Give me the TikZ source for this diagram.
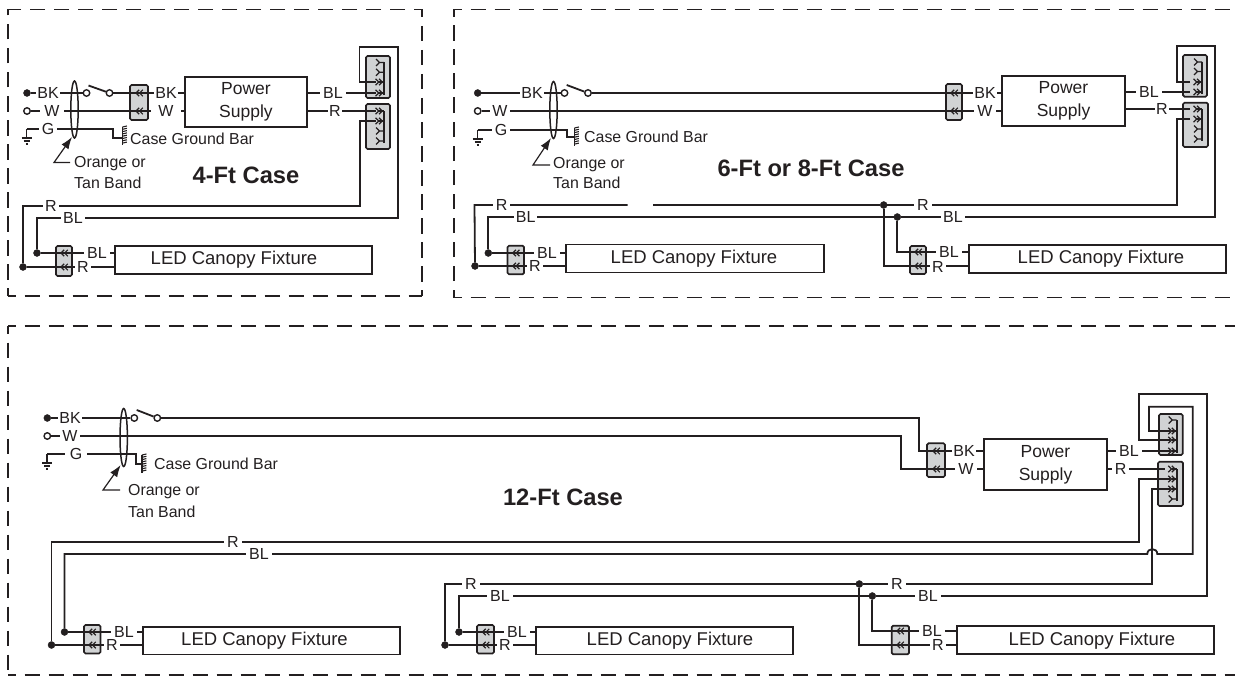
\documentclass[tikz,border=0pt]{standalone}
\usepackage{fontspec}
\setmainfont{Liberation Sans}
\usetikzlibrary{arrows.meta,shapes.geometric}
\definecolor{ink}{HTML}{231F20}
\definecolor{boxgray}{HTML}{D1D3D4}
\tikzset{
  wire/.style={draw=ink,line width=1.8pt,line join=miter},
  thin wire/.style={draw=ink,line width=1.2pt},
  frame/.style={draw=ink,line width=1.6pt,dash pattern=on 15.5pt off 8.5pt,dash phase=7.5pt},
  lab/.style={fill=white,text=ink,inner xsep=1.5pt,inner ysep=0pt,font=\fontsize{16}{16}\selectfont},
  wlab/.style={lab,inner xsep=4.5pt},
  plain/.style={text=ink,inner sep=0pt,font=\fontsize{15.9}{19}\selectfont},
  title/.style={text=ink,inner sep=0pt,font=\bfseries\fontsize{23.7}{26}\selectfont},
  powerbox/.style={draw=ink,line width=1.8pt,fill=white,inner sep=0pt,align=center,text=ink,outer sep=0pt,font=\fontsize{17.5}{23}\selectfont},
  fixbox/.style={draw=ink,line width=1.8pt,fill=white,inner sep=0pt,outer sep=0pt},
  fixtext/.style={text=ink,inner sep=0pt,font=\fontsize{18.5}{20}\selectfont},
  splicebox/.style={draw=ink,line width=1.7pt,fill=boxgray,rounded corners=1.5pt,inner sep=0pt,outer sep=0pt},
  solidterm/.style={circle,fill=ink,draw=ink,inner sep=0pt,minimum size=7pt},
  openterm/.style={circle,fill=white,draw=ink,line width=1.4pt,inner sep=0pt,minimum size=6.5pt},
  band/.style={ellipse,draw=ink,line width=1.5pt,inner sep=0pt,minimum width=7.4pt,minimum height=57pt},
  callout/.style={draw=ink,line width=1.2pt,-{Latex[length=12pt,width=8.5pt]}},
}
\newcommand{\spliceat}[5]{\node[splicebox,minimum width={#3-#2},minimum height={#5-#4}] (#1) at ({(#2+#3)/2},{(#4+#5)/2}) {};}
\newcommand{\fixat}[5]{\node[fixbox,minimum width={#3-#2},minimum height={#5-#4}] (#1) at ({(#2+#3)/2},{(#4+#5)/2}) {};}
\newcommand{\powerat}[5]{\node[powerbox,minimum width={#3-#2},minimum height={#5-#4}] (#1) at ({(#2+#3)/2},{(#4+#5)/2}) {Power\\Supply};}
\newcommand{\lchev}[2]{\draw[thin wire] (#1+.2,#2-3.2)--(#1-3,#2)--(#1+.2,#2+3.2) (#1+3.8,#2-3.2)--(#1+.6,#2)--(#1+3.8,#2+3.2);}
\newcommand{\usedrow}[3]{\draw[thin wire] (#1-8.5,#2-3.2)--(#1-5.3,#2)--(#1-8.5,#2+3.2) (#1-5,#2-3.2)--(#1-1.8,#2)--(#1-5,#2+3.2);\draw[thin wire] (#1-5,#2)--(#1+#3,#2);}
\newcommand{\freerow}[2]{\draw[thin wire] (#1-8,#2-3.5)--(#1-4.5,#2)--(#1-8,#2+3.5) (#1-4.5,#2)--(#1,#2);}
\newcommand{\busbar}[3]{\draw[wire] (#1,#2)--(#1,#3);}
\newcommand{\gnd}[2]{\draw[thin wire] (#1,#2)--(#1,#2+9) (#1-5,#2+9)--(#1+5,#2+9) (#1-3,#2+12)--(#1+3,#2+12) (#1-1,#2+15)--(#1+1,#2+15);}
\newcommand{\gbar}[3]{\draw[wire] (#1,#2)--(#1,#3);\foreach \yy in {0,2.3,...,17.5}{\draw[draw=ink,line width=1.1pt] (#1,#2+\yy)--(#1+4.4,#2+\yy-1);}}
\begin{document}
\begin{tikzpicture}[x=1pt,y=-1pt]
\useasboundingbox (0,0) rectangle (1235,677);
% frames
\draw[frame] (421.7,9.5)--(8,9.5);
\draw[frame] (421.7,9.5)--(421.7,296);
\draw[frame] (8,296)--(8,9.5);
\draw[frame] (8,296)--(421.7,296);
\draw[frame] (454,9.5)--(1235,9.5);
\draw[frame] (454,297.5)--(454,9.5);
\draw[frame] (454,297.5)--(1235,297.5);
\draw[frame] (8,326)--(1235,326);
\draw[frame] (8,326)--(8,675);
\draw[frame] (8,675)--(1235,675);

%% ---------- 4-Ft ----------
\spliceat{a-in}{130}{148}{85}{120}
\powerat{a-power}{185}{307}{77}{127}
\spliceat{a-ct}{366}{390}{56}{98}
\spliceat{a-cb}{366}{390}{104}{149}
\fixat{a-fix}{115}{372}{246}{274}
\spliceat{a-out}{56}{72}{246}{276}
\node[solidterm] (a-bk) at (27,93) {};
\node[openterm] (a-w) at (27,111) {};
\node[openterm] (a-s1) at (86.5,93) {};
\node[openterm] (a-s2) at (109.5,93) {};
\coordinate (a-blade) at (88.5,85.5);
\coordinate (a-ctbl) at (376,93);
\coordinate (a-cbr) at (376,111);
\node[solidterm] (a-dbl) at (37,253) {};
\node[solidterm] (a-dr) at (23,267) {};
\draw[wire] (a-bk)--(a-s1);
\draw[wire] (a-s2)--(a-s2-|a-power.west);
\draw[wire] (a-blade)--(a-s2);
\draw[wire] (a-w)--(a-w-|a-power.west);
\draw[wire] (a-power.east|-a-ctbl)--(a-ctbl);
\draw[wire] (a-power.east|-a-cbr)--(a-cbr);
\draw[wire] (376,82)--(359.5,82)--(359.5,47)--(397.7,47)--(397.7,218)--(37,218)--(a-dbl);
\draw[wire] (376,121)--(360,121)--(360,206)--(23,206)--(a-dr);
\draw[wire] (a-dbl)--(a-dbl-|a-fix.west);
\draw[wire] (a-dr)--(a-dr-|a-fix.west);
\draw[wire] (26.5,129)--(113,129)--(113,138)--(122,138);
\gnd{26.5}{129}
\gbar{122.5}{127}{145}
\node[band] (a-band) at (74.5,109.5) {};
\node[lab] (a-l1) at (48,93) {BK};
\node[wlab] (a-l2) at (52,111) {W};
\node[lab,inner xsep=3pt] (a-l3) at (48,129) {G};
\node[lab] (a-l4) at (166,93) {BK};
\node[wlab,inner xsep=7pt] (a-l5) at (166,111) {W};
\node[lab,inner xsep=3pt] (a-l6) at (333,93) {BL};
\node[lab] (a-l7) at (335,111) {R};
\node[lab,inner xsep=2.5pt] (a-l8) at (51,206) {R};
\node[lab,inner xsep=2.5pt] (a-l9) at (73,218) {BL};
\node[lab,inner xsep=3pt] (a-l10) at (97,253) {BL};
\node[lab,inner xsep=2.5pt] (a-l11) at (83,267) {R};
\lchev{139}{93}\lchev{139}{111}\lchev{64}{253}\lchev{64}{267}
\busbar{384}{62.5}{95}\busbar{384}{111}{143}
\freerow{384}{62.5}\freerow{384}{72.3}\usedrow{384}{82}{0}\usedrow{384}{93}{0}
\usedrow{384}{111}{0}\usedrow{384}{121}{0}\freerow{384}{131}\freerow{384}{141}
\coordinate (a-co) at (70,162.5);
\draw[callout] (a-co)--(54,162.5)--(72,137);
\node[plain,anchor=west] (a-t1) at (130,139) {Case Ground Bar};
\node[plain,anchor=west] (a-t2) at (74,164) {Orange or};
\node[plain,anchor=west] (a-t3) at (74,183) {Tan Band};
\node[title] (a-title) at (246,175) {4-Ft Case};
\node[fixtext] (a-ft) at (234,260) {LED Canopy Fixture};

%% ---------- 6-Ft / 8-Ft ----------
\spliceat{b-in}{946}{962}{84}{120}
\powerat{b-power}{1002}{1125}{76}{126}
\spliceat{b-ct}{1183}{1207}{55}{96.7}
\spliceat{b-cb}{1183}{1208}{102.7}{147}
\fixat{b-fix1}{566}{824}{244.5}{272.5}
\fixat{b-fix2}{969}{1226}{245}{273}
\spliceat{b-out1}{507.5}{524}{245.7}{274.3}
\spliceat{b-out2}{910}{926}{246}{274}
\node[solidterm] (b-bk) at (477.7,93) {};
\node[openterm] (b-w) at (477.7,111) {};
\node[openterm] (b-s1) at (564.5,93) {};
\node[openterm] (b-s2) at (588,93) {};
\coordinate (b-blade) at (566.7,85);
\coordinate (b-ctbl) at (1190,92);
\coordinate (b-cbr) at (1190,109);
\node[solidterm] (b-dbl1) at (488.3,253) {};
\node[solidterm] (b-dr1) at (475,266) {};
\node[solidterm] (b-dbl2) at (897.3,217) {};
\node[solidterm] (b-dr2) at (883.7,205) {};
\draw[wire] (b-bk)--(b-s1);
\draw[wire] (b-s2)--(b-s2-|b-power.west);
\draw[wire] (b-blade)--(b-s2);
\draw[wire] (b-w)--(b-w-|b-power.west);
\draw[wire] (b-power.east|-b-ctbl)--(b-ctbl);
\draw[wire] (b-power.east|-b-cbr)--(b-cbr);
\draw[wire] (1190,82)--(1177,82)--(1177,46)--(1215,46)--(1215,217)--(b-dbl2);
\draw[wire] (b-dbl2)--(488.3,217)--(b-dbl1);
\draw[wire] (1190,119)--(1177,119)--(1177,205)--(b-dr2);
\draw[wire] (b-dr2)--(653,205);
\draw[wire] (627.7,205)--(474.5,205)--(b-dr1);
\draw[wire] (b-dbl1)--(b-dbl1-|b-fix1.west);
\draw[wire] (b-dr1)--(b-dr1-|b-fix1.west);
\draw[wire] (b-dbl2)--(897.3,252)--(969,252);
\draw[wire] (b-dr2)--(883.7,266)--(969,266);
\draw[wire] (477.7,130)--(567,130)--(567,137)--(573.5,137);
\gnd{477.7}{130}
\gbar{574.5}{128}{146}
\node[band] (b-band) at (553.5,110) {};
\node[lab] (b-l1) at (532,93) {BK};
\node[wlab,inner xsep=2.5pt] (b-l2) at (500,111) {W};
\node[lab,inner xsep=3pt] (b-l3) at (501,130) {G};
\node[lab] (b-l4) at (985,93) {BK};
\node[wlab,inner xsep=3pt] (b-l5) at (985,111) {W};
\node[lab,inner xsep=3pt] (b-l6) at (1149,92) {BL};
\node[lab] (b-l7) at (1162,109) {R};
\node[lab,inner xsep=2.5pt] (b-l8) at (501.7,205) {R};
\node[lab,inner xsep=2pt] (b-l9) at (525.7,217) {BL};
\node[lab,inner xsep=3pt] (b-l10) at (547,253) {BL};
\node[lab,inner xsep=2.5pt] (b-l11) at (535,266) {R};
\node[lab,inner xsep=3pt] (b-l12) at (923,205) {R};
\node[lab,inner xsep=2.5pt] (b-l13) at (953,217) {BL};
\node[lab,inner xsep=3pt] (b-l14) at (949,252) {BL};
\node[lab,inner xsep=2.5pt] (b-l15) at (938,266.5) {R};
\lchev{954}{93}\lchev{954}{111}\lchev{515.7}{253}\lchev{515.7}{266}\lchev{918}{252}\lchev{918}{266}
\busbar{1202}{62}{94}\busbar{1202}{109}{141}
\freerow{1202}{62}\freerow{1202}{71.5}\usedrow{1202}{82}{0}\usedrow{1202}{92}{0}
\usedrow{1202}{109}{0}\usedrow{1202}{119}{0}\freerow{1202}{129}\freerow{1202}{139}
\draw[callout] (550,165)--(533,165)--(551,138);
\node[plain,anchor=west] (b-t1) at (584,137) {Case Ground Bar};
\node[plain,anchor=west] (b-t2) at (553,165) {Orange or};
\node[plain,anchor=west] (b-t3) at (553,183) {Tan Band};
\node[title] (b-title) at (811,168) {6-Ft or 8-Ft Case};
\node[fixtext] (b-ft1) at (694,259) {LED Canopy Fixture};
\node[fixtext] (b-ft2) at (1101,259) {LED Canopy Fixture};

%% ---------- 12-Ft ----------
\spliceat{c-in}{927}{945}{443.3}{477}
\powerat{c-power}{984}{1107}{439}{490}
\spliceat{c-ct}{1159}{1182.7}{414}{455}
\spliceat{c-cb}{1158}{1183}{461.7}{506}
\fixat{c-fix1}{142.7}{400}{627}{654.5}
\fixat{c-fix2}{536}{793}{627}{654.5}
\fixat{c-fix3}{957}{1214}{625.7}{654}
\spliceat{c-out1}{84}{100.5}{625}{653.5}
\spliceat{c-out2}{477}{494}{625}{653.5}
\spliceat{c-out3}{891.7}{909}{625.7}{654.3}
\node[solidterm] (c-bk) at (47.3,418) {};
\node[openterm] (c-w) at (47.3,436) {};
\node[openterm] (c-s1) at (134.3,418) {};
\node[openterm] (c-s2) at (157.3,418) {};
\coordinate (c-blade) at (136.7,410);
\node[solidterm] (c-dbl1) at (64.5,632) {};
\node[solidterm] (c-dr1) at (51.5,645) {};
\node[solidterm] (c-dbl2) at (459,632) {};
\node[solidterm] (c-dr2) at (445,645) {};
\node[solidterm] (c-dbl3) at (872.3,596) {};
\node[solidterm] (c-dr3) at (859.3,584) {};
\draw[wire] (c-bk)--(c-s1);
\draw[wire] (c-s2)--(919.3,418)--(919.3,451)--(984,451);
\draw[wire] (c-blade)--(c-s2);
\draw[wire] (c-w)--(901,436)--(901,469)--(984,469);
\draw[wire] (1107,451)--(1170,451);
\draw[wire] (1107,469)--(1165,469);
% top connector loops
\draw[wire] (1170,431)--(1149,431)--(1149,406.7)--(1192.7,406.7)--(1192.7,554)--(1157.3,554)
  .. controls (1157.3,547.5) and (1147.3,547.5) .. (1147.3,554)--(64.5,554)--(c-dbl1);
\draw[wire] (1170,440)--(1139.3,440)--(1139.3,394.3)--(1206.7,394.3)--(1206.7,596)--(c-dbl3);
\draw[wire] (c-dbl3)--(459,596)--(c-dbl2);
% bottom connector wires
\draw[wire] (1170,479)--(1139.3,479)--(1139.3,542)--(51.5,542)--(c-dr1);
\draw[wire] (1170,489)--(1152.3,489)--(1152.3,584)--(c-dr3);
\draw[wire] (c-dr3)--(445,584)--(c-dr2);
\draw[wire] (c-dbl1)--(c-dbl1-|c-fix1.west);
\draw[wire] (c-dr1)--(c-dr1-|c-fix1.west);
\draw[wire] (c-dbl2)--(c-dbl2-|c-fix2.west);
\draw[wire] (c-dr2)--(c-dr2-|c-fix2.west);
\draw[wire] (c-dbl3)--(872.3,631)--(957,631);
\draw[wire] (c-dr3)--(859.3,645)--(957,645);
\draw[wire] (47,454)--(136,454)--(136,464)--(141,464);
\gnd{47}{454}
\gbar{142}{455}{473}
\node[band,minimum height=58pt] (c-band) at (123.7,437.5) {};
\node[lab] (c-l1) at (70,418) {BK};
\node[wlab,inner xsep=2pt] (c-l2) at (70,436) {W};
\node[lab,inner xsep=5pt] (c-l3) at (76,454) {G};
\node[lab] (c-l4) at (964,451) {BK};
\node[wlab,inner xsep=3pt] (c-l5) at (966,469) {W};
\node[lab,inner xsep=3pt] (c-l6) at (1129,451) {BL};
\node[lab,inner xsep=2.5pt] (c-l7) at (1120.6,469) {R};
\node[lab,inner xsep=3pt] (c-l8) at (233,542) {R};
\node[lab,inner xsep=3pt] (c-l9) at (259,554) {BL};
\node[lab,inner xsep=3pt] (c-l10) at (124,632) {BL};
\node[lab,inner xsep=2.5pt] (c-l11) at (112,645) {R};
\node[lab,inner xsep=3pt] (c-l12) at (471,584) {R};
\node[lab,inner xsep=3pt] (c-l13) at (500,596) {BL};
\node[lab,inner xsep=3pt] (c-l14) at (517,632) {BL};
\node[lab,inner xsep=2.5pt] (c-l15) at (505,645) {R};
\node[lab,inner xsep=3pt] (c-l16) at (897,584) {R};
\node[lab,inner xsep=3pt] (c-l17) at (928,596) {BL};
\node[lab,inner xsep=3pt] (c-l18) at (932,631) {BL};
\node[lab,inner xsep=2.5pt] (c-l19) at (938,645) {R};
\lchev{936}{451}\lchev{936}{469}\lchev{92}{632}\lchev{92}{645}\lchev{485.5}{632}\lchev{485.5}{645}\lchev{900}{631}\lchev{900}{645}
\busbar{1176.7}{420}{453}\busbar{1176.7}{469}{501}
\freerow{1176.7}{420}\usedrow{1176.7}{431}{0}\usedrow{1176.7}{440}{0}\usedrow{1176.7}{451}{0}
\usedrow{1176.7}{469}{0}\usedrow{1176.7}{479}{0}\usedrow{1176.7}{489}{0}\freerow{1176.7}{499}
\draw[callout] (120,490)--(103,490)--(120.7,465);
\node[plain,anchor=west] (c-t1) at (154,464) {Case Ground Bar};
\node[plain,anchor=west] (c-t2) at (128,492) {Orange or};
\node[plain,anchor=west] (c-t3) at (128,512) {Tan Band};
\node[title] (c-title) at (563,497) {12-Ft Case};
\node[fixtext] (c-ft1) at (264.5,641) {LED Canopy Fixture};
\node[fixtext] (c-ft2) at (670,641) {LED Canopy Fixture};
\node[fixtext] (c-ft3) at (1092,641) {LED Canopy Fixture};
\end{tikzpicture}
\end{document}
